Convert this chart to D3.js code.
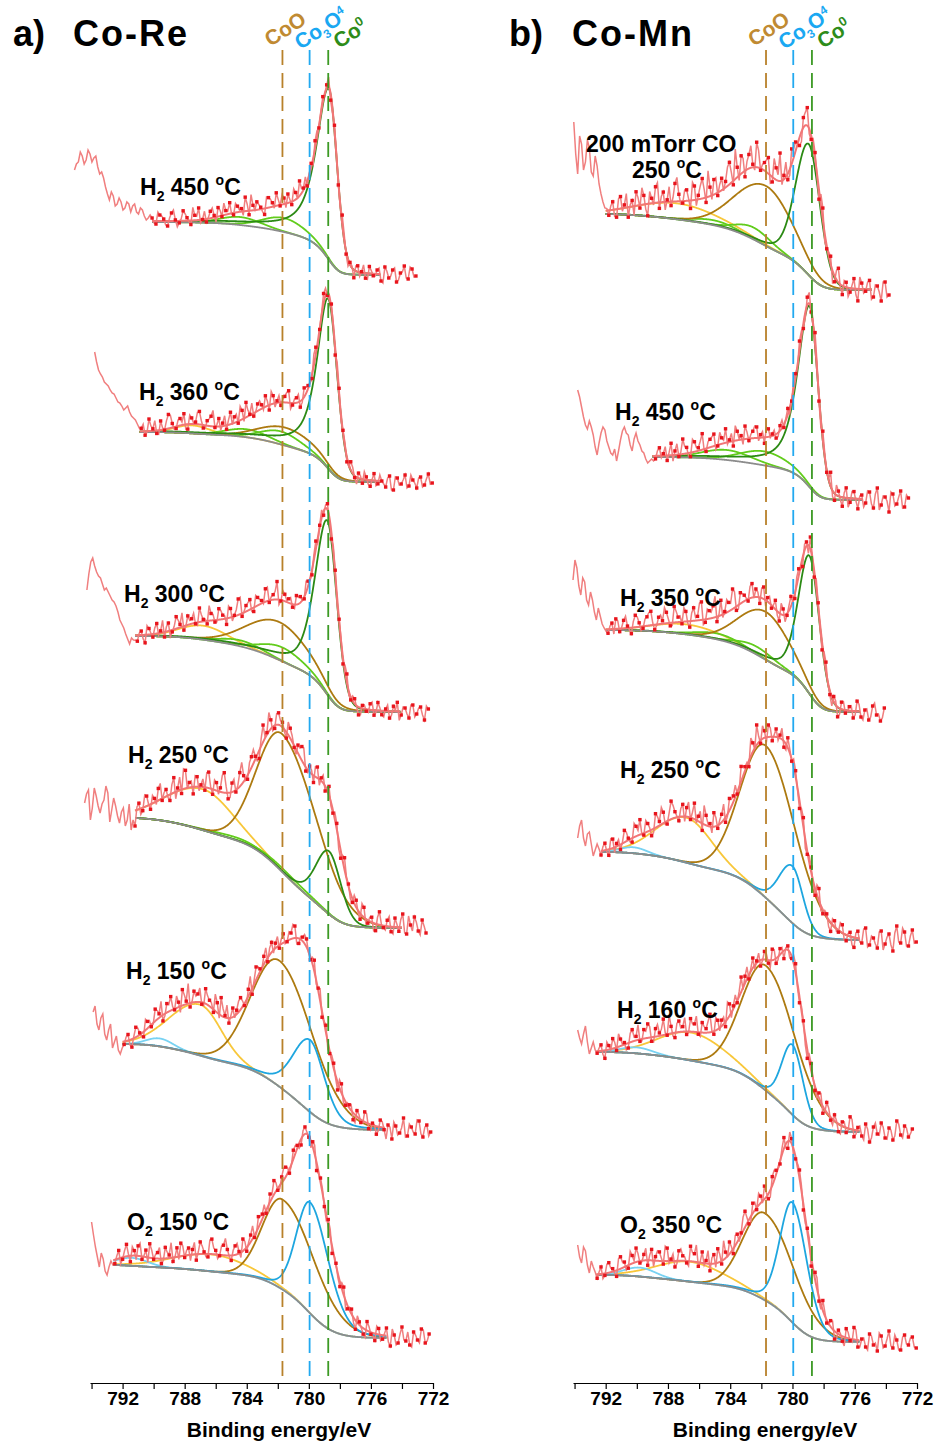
<!DOCTYPE html>
<html><head><meta charset="utf-8">
<script src="https://cdn.jsdelivr.net/npm/d3@7"></script>
<style>
body{margin:0;background:#fff}
svg{display:block}
text{font-family:"Liberation Sans",Arial,Helvetica,sans-serif;font-weight:bold}
</style>
</head><body>
<svg id="c" width="938" height="1446"></svg>
<script>
// ---------------- DATA ----------------
const tickEnergies = [794,792,790,788,786,784,782,780,778,776,774,772];
const refNames = ["CoO","Co3O4","Co0"];
const refEnergies = [781.7, 779.95, 778.75];
const rawStep = 0.25; // eV between main raw samples; "Mid" samples sit halfway between

// peak: [component, centre eV, height a.u., width high-BE side, width low-BE side, lorentz frac high side, lorentz frac low side]
// ---- a) Co-Re ----
const reGas = ["H2","H2","H2","H2","H2","O2"];
const reTemp = [450,360,300,250,150,150];
const reOffset = [1108,901,671,455,253,45];
const reStep = [53,50,76,110,86,73];
const reStart = [795.1,793.8,794.3,794.45,793.9,794.0];
const reFit = [[790.1,775.4],[790.9,775.4],[791.2,774.1],[791.2,774.0],[792.0,775.1],[792.6,775.0]];
const rePeaks = [
 [["Co0sat",781.6,14,1.6,1.6,0,0],["Co0sat",784.4,8,1.5,1.5,0,0],["Co0",778.7,171,0.95,0.62,0.8,0.15]],
 [["CoOsat",787.5,8,1.3,1.3,0,0],["Co0sat",781.8,13,1.5,1.5,0,0],["Co0sat",784.0,8,1.6,1.6,0,0],["CoO",781.5,18,2.0,2.0,0,0],["Co0",778.75,170,0.85,0.68,0.75,0.15]],
 [["CoOsat",786.8,14,1.8,1.8,0,0],["Co0sat",781.7,14,1.6,1.6,0,0],["Co0sat",784.4,6,1.5,1.5,0,0],["CoO",781.9,38,2.4,2.2,0,0],["Co0",778.8,174,0.95,0.72,0.5,0.15]],
 [["CoOsat",786.8,41,2.8,2.2,0,0],["Co0sat",781.5,4,2,2,0,0],["Co0sat",784.5,3,2,2,0,0],["CoO",781.7,138,1.9,2.6,0,0],["Co0",778.7,63,1.0,0.9,0.2,0.1]],
 [["Co3O4sat",789.6,8,1.0,1.0,0,0],["CoOsat",787.0,51,2.3,1.6,0,0],["CoO",781.9,126,2.1,2.6,0,0],["Co3O4",779.9,72,1.3,1.1,0.2,0.3]],
 [["Co3O4sat",791.4,8,1.2,1.2,0,0],["CoOsat",786.2,17,3.0,2.5,0,0],["CoO",781.7,90,1.5,2.5,0,0],["Co3O4",779.9,111,1.05,1.4,0.1,0.2]]
];
const reResid = [
 [52,60,66,62,68,64,55,50,35,22,26,18,20,14,18,16,10,14,6,4,
  4,-3,6,2,-5,8,1,-2,10,3,-4,5,12,0,-3,7,2,9,-1,4,
  11,-2,6,3,14,-4,5,8,2,-6,10,4,13,-1,6,9,-3,7,15,2,
  -5,4,8,-2,6,3,-7,5,-4,9,-3,2,-8,6,1,-5,7,-2,4,-6,
  8,-3,5,-7,2,9,-4,6,-1],
 [80,62,55,48,42,38,30,26,24,20,14,8,
  3,-4,12,2,-3,9,-1,14,4,-2,7,11,-5,6,2,13,-3,5,10,-1,
  8,3,-4,12,6,-2,9,15,1,-3,7,4,11,-5,8,2,-3,6,12,-2,
  5,-6,9,3,-4,7,-1,10,-3,4,-7,6,2,-5,8,-2,5,-4,3,-6,
  7,-3,1,-5,6,-8,4,-2,7,-4,2,-6,5,-3,8,-1],
 [46,74,70,60,52,48,40,34,24,12,2,-8,-4,
  -6,4,-8,6,-3,10,2,-5,8,-2,12,3,-4,9,5,-1,14,2,-3,7,
  -2,11,4,-6,9,1,16,-3,6,10,-4,8,3,13,-2,5,18,-1,7,4,
  -3,9,6,-2,5,-5,8,2,-4,6,-7,4,1,-6,9,-3,5,-8,3,-2,
  6,-5,8,-4,2,-7,5,9,-3,4,-6,7,-2,5,-8,3],
 [15,28,10,22,5,18,25,8,12,-5,10,-2,-12,
  -8,6,-3,10,-5,4,12,-2,7,-6,15,3,-4,18,5,-7,10,2,-3,16,
  -5,8,4,20,-6,9,-2,14,6,-4,11,3,-8,17,2,9,-3,12,5,-6,
  10,-2,8,14,-4,6,-7,11,3,-5,9,-3,6,-8,12,2,-4,7,-6,10,
  -3,5,-7,13,-2,6,-5,9,-4,14,-6,3,11,-3,8,-5],
 [32,20,26,10,14,-4,8,-10,
  -3,6,-8,10,2,-5,7,-2,12,4,-6,9,14,-1,5,16,3,-4,11,8,
  -2,15,6,-3,10,18,2,-5,9,4,12,-2,7,-6,13,3,8,-4,10,5,
  -3,9,-1,6,12,-5,4,8,-3,11,2,-6,7,-2,5,-8,9,-4,3,-7,
  6,-3,10,-5,2,-8,7,-2,5,-9,4,-3,12,-6,3,-4,9,-7,5,-2],
 [43,18,-2,6,-10,4,
  -4,8,-2,12,-6,5,10,-3,7,14,-1,6,-5,11,3,-4,9,13,-2,7,
  5,-6,12,2,-3,15,4,-1,10,6,-5,9,2,12,-4,7,-2,11,5,-3,
  8,14,-2,6,10,-4,9,3,-6,7,-1,5,-8,4,-3,6,-7,2,-5,8,
  -3,5,-9,3,-6,9,-2,-7,6,-4,10,-8,3,-5,11,-3,-7,6,-2,9,
  -5,4]
];
const reResidMid = [
 [58,70,58,72,60,66,48,44,28,30,16,24,12,20,10,18,8,12,2,7,
  -2,9,5,-4,3,11,-6,2,7,-1,13,4,-3,8,1,10,-5,6,12,3,
  -1,9,2,-4,7,16,0,5,-3,11,8,-2,6,10,-4,3,12,-1,5,9,
  1,-6,7,3,-2,10,-5,4,-3,6,-7,2,5,-4,8,-6,3,-2,6,-8,
  4,-1,7,-5,3,-3,8,-2],
 [70,58,50,46,39,34,29,22,26,16,12,4,
  7,-1,5,10,-4,2,8,13,-2,6,3,-5,9,1,12,4,-3,7,16,2,
  -4,10,5,-1,8,14,-3,6,11,0,9,-2,5,13,-4,7,3,10,-6,4,
  8,-3,6,-1,11,-5,3,7,-4,2,9,-6,4,-2,6,-7,3,8,-4,1,
  -5,6,-2,4,-8,5,-3,2,-6,7,-1,4,-5,3,-2],
 [62,78,64,58,46,44,36,30,16,8,-3,-2,-5,
  2,-4,9,1,6,-2,12,5,-6,3,8,14,-1,4,10,-3,7,2,15,6,
  -2,9,3,12,-4,6,17,1,8,-3,11,5,-1,14,3,8,-5,10,2,6,
  -4,7,0,11,-2,5,-6,8,3,-3,6,-8,2,7,-4,5,-1,-7,4,-3,
  8,-2,3,-6,6,-4,1,-9,5,-2,7,-5,4,-3,6],
 [24,-2,30,12,14,32,-4,20,2,6,-8,14,-2,
  3,-6,12,1,8,-3,16,5,-2,9,-7,13,20,-1,6,11,-4,8,15,2,
  10,-3,17,6,-5,12,3,22,-2,9,14,-6,7,2,19,-4,11,5,-2,13,
  6,-5,9,16,-3,4,10,-6,8,2,-4,7,-9,5,1,-6,8,-2,12,-5,
  4,-8,7,1,-4,10,-7,3,8,-5,12,-3,6,-7,2],
 [38,14,30,4,20,2,-6,-4,
  4,-5,2,8,-3,11,6,-1,9,15,-2,7,3,12,-6,10,20,1,6,14,
  -3,9,5,17,-4,8,13,2,-2,11,6,-5,16,4,9,-1,13,7,-3,10,
  5,-2,8,14,-6,3,9,-1,6,-4,12,1,-7,5,-3,8,-5,2,6,-8,
  4,-2,9,-6,1,-4,6,-9,3,8,-5,2,-7,6,-2,10,-4,3,-6],
 [30,8,12,-6,-2,0,
  3,-6,6,2,9,-4,13,1,-5,8,4,11,-2,6,15,0,-3,10,5,-6,
  12,2,8,-3,14,6,-4,9,17,-1,5,11,-5,8,3,13,-2,7,10,-6,
  4,9,-3,12,6,-1,8,-5,5,2,-7,9,-2,4,-6,7,1,-4,6,-9,
  3,-5,7,-1,-8,5,-3,8,-6,2,-4,9,-7,4,-2,6,-9,3,-5,8,
  -3]
];

// ---- b) Co-Mn ----
const mnGas = ["200 mTorr CO","H2","H2","H2","H2","O2"];
const mnTemp = [250,450,350,250,160,350];
const mnOffset = [1093,883,671,443,251,41];
const mnStep = [76,43,82,88,80,67];
const mnStart = [794.05,793.8,794.1,793.8,793.8,793.8];
const mnFit = [[792.0,774.9],[789.0,775.5],[792.0,775.7],[792.3,775.7],[792.6,775.7],[792.6,775.7]];
const mnPeaks = [
 [["CoOsat",787.4,16,3,3,0,0],["Co0sat",782.5,12,1.3,1.3,0,0],["Co0sat",785.0,5,1.5,1.5,0,0],["CoO",781.7,60,2.3,2.0,0,0],["Co0",778.95,131,1.0,0.85,0.2,0.1]],
 [["Co0sat",781.8,14,1.8,1.8,0,0],["Co0sat",784.2,10,1.8,1.8,0,0],["Co0",778.9,181,0.9,0.65,0.7,0.15]],
 [["CoOsat",786.8,10,2.5,2.5,0,0],["Co0sat",782.3,8,1.4,1.4,0,0],["Co0sat",784.8,6,1.6,1.6,0,0],["CoO",781.7,48,2.0,1.8,0,0],["Co0",778.9,138,0.85,0.75,0.3,0.1]],
 [["Co3O4sat",790.2,6,1.0,1.0,0,0],["CoOsat",786.8,45,2.3,1.9,0,0],["CoO",781.7,152,1.9,2.3,0,0],["Co3O4",780.0,57,1.0,0.8,0.1,0.1]],
 [["Co3O4sat",790.0,6,1.2,1.2,0,0],["CoOsat",786.5,28,2.5,2.5,0,0],["CoO",781.7,125,1.8,2.3,0,0],["Co3O4",780.0,70,0.8,0.8,0.1,0.1]],
 [["Co3O4sat",789.8,9,1.2,1.2,0,0],["CoOsat",786.6,20,2.5,2.5,0,0],["CoO",781.8,87,1.6,2.3,0,0],["Co3O4",780.0,120,0.95,1.1,0.15,0.15]]
];
const mnResid = [
 [92,40,70,52,66,38,48,20,6,
  -5,8,-8,12,3,-10,6,14,-3,9,-12,5,16,-6,10,2,-4,18,7,-2,
  11,-8,14,4,20,-5,9,15,-3,12,6,22,-4,10,18,-6,14,3,25,-2,
  8,16,-5,12,28,4,-6,15,9,-8,10,18,-4,6,-10,12,-3,8,-6,14,
  -9,5,-4,10,-12,6,-2,9,-7,4,-11,8,-5],
 [67,50,32,36,22,2,24,27,10,2,-4,17,30,22,6,24,12,4,-6,-2,
  -3,8,2,-5,12,4,-2,15,6,-4,10,3,16,-3,8,12,-1,6,14,2,
  -5,9,4,13,-2,7,11,3,-6,8,2,-4,5,-3,6,-2,4,10,-5,8,
  -3,12,-6,9,-2,14,-7,5,-9,10,-4,7,-10,4,-3,8,-8,12,-5,3,
  -12,6,-4,9,-7,2],
 [50,62,35,48,25,30,10,14,2,
  -4,6,10,-3,8,2,-6,12,4,-2,9,14,-5,7,3,11,-3,16,5,-2,
  10,-6,13,4,18,-3,8,12,-5,15,2,9,20,-4,11,6,-2,14,8,-6,
  12,4,-3,9,-8,6,-2,10,-5,7,-9,4,12,-6,3,-8,9,-4,5,-10,
  7,-3,4,-7,10,-5,2,-8,6,-3,-9,4],
 [14,32,6,20,-4,8,
  -3,7,-6,9,3,-5,12,2,-4,10,15,-2,8,-6,14,4,11,-3,18,6,
  -4,12,9,-2,16,5,-7,10,3,14,-3,8,-5,12,6,-2,15,4,-6,9,
  20,-3,7,12,-4,8,3,-6,10,-2,6,-8,9,-3,5,-7,12,-4,3,-9,
  6,-2,8,-6,4,-10,7,-3,12,-5,2,-8,9,-4,6,-11,14,-3,8,-6,
  10,-2],
 [22,8,26,-2,10,
  -2,6,-8,4,10,-3,7,2,-5,12,4,-2,9,14,-4,8,3,16,-1,7,
  -5,11,5,-3,13,8,-2,10,4,18,-3,9,6,-5,12,3,-2,15,7,-4,
  10,2,-6,8,-3,11,-5,6,-8,4,-2,9,-6,3,-9,7,-4,5,-7,10,
  -3,6,-8,4,-5,12,-7,3,-4,8,-10,5,-2,9,-6,4,-8,11,-3,6,
  -5,3],
 [30,12,24,2,8,
  -4,7,-2,10,3,-6,12,5,-3,8,14,-2,6,-5,11,4,9,-3,13,2,
  -6,10,5,-2,15,8,-4,11,3,-7,9,14,-3,6,12,-5,8,2,16,-4,
  10,-2,7,13,-5,9,4,-3,11,-7,5,-2,8,-6,3,-9,7,-4,10,-3,
  6,-8,4,-5,9,-2,12,-7,3,-5,8,-3,-9,6,-4,11,-6,2,-8,7,
  -3,5,-6]
];
const mnResidMid = [
 [60,78,44,74,42,58,30,12,2,
  4,-7,10,-3,14,2,-9,8,17,-5,12,-2,20,6,-8,15,4,24,-3,11,
  2,18,-6,13,9,26,-4,16,7,-2,19,10,30,-5,14,8,22,-3,17,5,
  12,-8,20,6,-4,15,-6,9,2,-10,13,-5,7,-2,11,-8,4,-12,9,-3,
  6,-9,3,-6,12,-4,7,-10,5,-2,8,-7],
 [60,40,28,30,10,14,30,16,4,8,6,26,24,12,18,16,6,-2,-4,-5,
  5,-2,9,3,-6,11,2,7,-3,13,4,9,-1,6,10,-4,12,3,-2,8,
  15,1,-5,7,4,12,-3,6,10,-1,5,-4,8,2,-6,9,-2,6,-5,11,
  -3,7,-8,4,1,-6,10,-3,5,-9,7,-2,3,-7,9,-4,6,-10,4,-1,
  8,-6,3,-8,5],
 [70,44,52,30,38,18,22,6,-2,
  3,-5,8,1,12,-2,6,10,-4,7,13,2,-1,9,16,4,-3,11,6,14,
  -2,8,3,17,-5,10,6,21,1,-3,13,7,16,-4,9,2,12,-1,5,10,
  -6,7,2,-4,11,-7,5,-1,8,-3,6,-8,3,9,-5,6,-2,-9,4,-6,
  8,-1,5,-4,7,-8,3,-5,9,-2,-6],
 [26,14,18,8,2,3,
  4,-2,10,-5,6,1,9,-3,14,5,-1,12,3,-4,10,17,-2,7,13,1,
  8,-5,15,6,-3,11,19,2,-6,9,4,16,-2,7,12,-4,10,3,18,-1,
  6,13,-5,9,2,-3,11,-6,4,8,-2,5,-9,7,-1,10,-5,3,-7,6,
  -3,9,-6,2,-8,5,-2,11,-7,4,-4,8,-10,3,-5,7,-2,12,-6,4,
  -3],
 [14,18,10,4,2,
  3,-4,8,-1,6,13,1,-6,9,4,15,-2,7,11,-5,12,6,2,19,-3,
  9,4,14,-1,8,16,-4,6,11,1,13,-3,7,17,-5,10,5,-2,12,3,
  -4,8,-1,6,-7,10,-3,5,2,-6,8,-4,4,-8,6,1,-5,9,-3,7,
  -6,2,-9,5,-2,10,-4,6,-8,3,-6,9,-3,5,-7,2,-4,8,-6,4,
  -2],
 [18,28,10,14,3,
  2,-5,9,4,-2,11,6,-4,13,2,8,-1,12,5,-6,10,3,15,-2,7,
  -3,12,4,-5,9,17,1,-2,13,6,-4,8,19,-1,5,10,-3,14,6,-5,
  8,12,-2,4,-7,10,-1,6,-4,9,-8,3,5,-6,7,-2,11,-5,4,-1,
  8,-6,2,-9,6,-3,10,-5,4,-8,6,-1,9,-6,3,-4,7,-8,5,-2,
  4,-5]
];

// ---------------- STYLE / LAYOUT ----------------
const compColor = {Co0:"#2b8a14", Co0sat:"#62cc1c", CoO:"#ad7a10", CoOsat:"#f8c73a", Co3O4:"#1ea6df", Co3O4sat:"#78d2f2"};
const refColor = ["#b8812a","#22a9f0","#3c9a24"];
const refLabelColor = ["#c08a32","#1aa8f2","#2e8c1a"];
const reLabelPos = [[140,195],[139,400],[124,602],[128,763],[126,979],[127,1230]];
const mnLabelPos = [[586,152],[615,420],[620,606],[620,778],[617,1018],[620,1233]];

const svg = d3.select("#c");
const yScale = d3.scaleLinear().domain([0,1343]).range([1383,40]);

function peakVal(p, E) {
  const c=p[1], h=p[2];
  const d = E - c;
  const w = d>0 ? p[3] : p[4];
  const m = d>0 ? p[5] : p[6];
  const u = d/w;
  return h*((1-m)*Math.exp(-Math.LN2*u*u) + m/(1+u*u));
}

function buildSpectrum(off, step, start, fit, peaks, resid, mid) {
  const fs = fit[0], fe = fit[1];
  const dE = 0.02;
  const n = Math.round((fs-fe)/dE);
  const grid = d3.range(n+1).map(i => fe + i*dE);
  const sums = grid.map(E => d3.sum(peaks, p => peakVal(p,E)));
  const cum = [0];
  for (let i=1;i<=n;i++) cum[i] = cum[i-1] + (sums[i]+sums[i-1])/2*dE;
  const tot = cum[n];
  const bg = cum.map(c => off + step*c/tot);
  const bgAt = E => {
    const t = (E-fe)/dE; const i = Math.max(0, Math.min(n-1, Math.floor(t))); const f = t - i;
    return bg[i]*(1-f) + bg[i+1]*f;
  };
  const model = E => {
    if (E >= fs) return off + step;
    if (E <= fe) return off;
    return bgAt(E) + d3.sum(peaks, p => peakVal(p,E));
  };
  const raw = [];
  resid.forEach((r,i) => { const E = start - rawStep*i; raw.push({E, v: model(E) + r, inFit: E <= fs, main: true}); });
  mid.forEach((r,i) => { const E = start - rawStep*i - rawStep/2; raw.push({E, v: model(E) + r, inFit: E <= fs, main: false}); });
  raw.sort((a,b) => b.E - a.E);
  const bgLine = grid.map((E,i) => ({E, v: bg[i]}));
  const comps = peaks.map(p => ({type:p[0], pts: grid.map((E,i)=>({E, v: bg[i] + peakVal(p,E)}))}));
  const env = grid.map((E,i) => ({E, v: bg[i] + sums[i]}));
  return {raw, bgLine, comps, env};
}

function drawLabel(g, x, y, gas, temp) {
  const t = g.append("text").attr("x",x).attr("y",y).style("font-size","23px").attr("fill","#000");
  if (gas.length === 2) {
    t.append("tspan").text(gas[0]);
    t.append("tspan").text(gas[1]).attr("dy",6).style("font-size","14px");
    t.append("tspan").text(" " + temp + " ").attr("dy",-6);
  } else {
    t.append("tspan").text(temp + " ");
  }
  t.append("tspan").text("o").attr("dy",-10).style("font-size","14px");
  t.append("tspan").text("C").attr("dy",10);
}

function drawPanel(cfg) {
  const x = d3.scaleLinear().domain([794.1, 772]).range(cfg.range);
  const g = svg.append("g");
  const line = d3.line().x(d => x(d.E)).y(d => yScale(d.v));
  const drawOrder = ["CoOsat","Co3O4sat","Co0sat","CoO","Co3O4","Co0"];

  cfg.offset.forEach((off, k) => {
    const s = buildSpectrum(off, cfg.step[k], cfg.start[k], cfg.fit[k], cfg.peaks[k], cfg.resid[k], cfg.mid[k]);
    const sg = g.append("g");
    drawOrder.forEach(type => {
      s.comps.filter(c => c.type === type).forEach(c => {
        sg.append("path").attr("d", line(c.pts)).attr("fill","none").attr("stroke", compColor[type]).attr("stroke-width",1.8);
      });
    });
    sg.append("path").attr("d", line(s.bgLine)).attr("fill","none").attr("stroke","#8c8c8c").attr("stroke-width",1.8);
    sg.append("path").attr("d", line(s.raw)).attr("fill","none").attr("stroke","#f07f7f").attr("stroke-width",1.5);
    sg.append("path").attr("d", line(s.env)).attr("fill","none").attr("stroke","#f27676").attr("stroke-width",2);
    sg.selectAll("rect.m").data(s.raw.filter(d => d.inFit && d.main)).join("rect")
      .attr("x", d => x(d.E)-1.7).attr("y", d => yScale(d.v)-1.7)
      .attr("width",3.4).attr("height",3.4).attr("fill","#e8141c");
    const pos = cfg.labelPos[k];
    if (k === 0 && cfg.gas[0].length > 2) {
      g.append("text").attr("x",pos[0]).attr("y",pos[1]).style("font-size","23px").text(cfg.gas[0]);
      drawLabel(g, pos[0]+46, pos[1]+26, "", cfg.temp[0]);
    } else {
      drawLabel(g, pos[0], pos[1], cfg.gas[k], cfg.temp[k]);
    }
  });

  refEnergies.forEach((e,i) => {
    g.append("line").attr("x1", x(e)).attr("x2", x(e)).attr("y1", 50).attr("y2", 1383)
      .attr("stroke", refColor[i]).attr("stroke-width",1.8).attr("stroke-dasharray","15,8");
  });
  const dxs = [-12,-9,11];
  const ys = [47,50,49];
  refNames.forEach((nm,i) => {
    const t = g.append("text").attr("transform", `translate(${x(refEnergies[i])+dxs[i]},${ys[i]}) rotate(-33)`)
      .attr("fill", refLabelColor[i]).style("font-size","21px");
    if (nm === "CoO") { t.text("CoO"); }
    else if (nm === "Co3O4") {
      t.append("tspan").text("Co");
      t.append("tspan").text("3").attr("dy",5).style("font-size","12px");
      t.append("tspan").text("O").attr("dy",-5);
      t.append("tspan").text("4").attr("dy",-8).style("font-size","12px");
    } else {
      t.append("tspan").text("Co");
      t.append("tspan").text("0").attr("dy",-8).style("font-size","13px");
    }
  });

  const axis = d3.axisBottom(x).tickValues(tickEnergies).tickFormat(d => d % 4 === 0 ? d : "").tickSize(6).tickSizeOuter(0);
  const ag = g.append("g").attr("transform","translate(0,1383)").call(axis);
  ag.select(".domain").attr("stroke","#000").attr("stroke-width",1.2);
  ag.selectAll(".tick line").attr("stroke","#000").attr("stroke-width",1.2);
  ag.selectAll(".tick text").style("font-size","19px").style("font-family",'"Liberation Sans",Arial,sans-serif').style("font-weight","bold").attr("fill","#000");
  g.append("text").attr("x", cfg.titleX).attr("y",1437).attr("text-anchor","middle").style("font-size","21px").text("Binding energy/eV");

  g.append("text").attr("x", cfg.tagX).attr("y",46).style("font-size","36px").text(cfg.tag);
  g.append("text").attr("x", cfg.nameX).attr("y",46).style("font-size","36px").style("letter-spacing","2px").text(cfg.name);
}

drawPanel({range:[90,433], offset:reOffset, step:reStep, start:reStart, fit:reFit, peaks:rePeaks, resid:reResid, mid:reResidMid,
  gas:reGas, temp:reTemp, labelPos:reLabelPos, titleX:279, tag:"a)", tagX:13, name:"Co-Re", nameX:73});
drawPanel({range:[573,917], offset:mnOffset, step:mnStep, start:mnStart, fit:mnFit, peaks:mnPeaks, resid:mnResid, mid:mnResidMid,
  gas:mnGas, temp:mnTemp, labelPos:mnLabelPos, titleX:765, tag:"b)", tagX:509, name:"Co-Mn", nameX:572});
</script>
</body></html>
